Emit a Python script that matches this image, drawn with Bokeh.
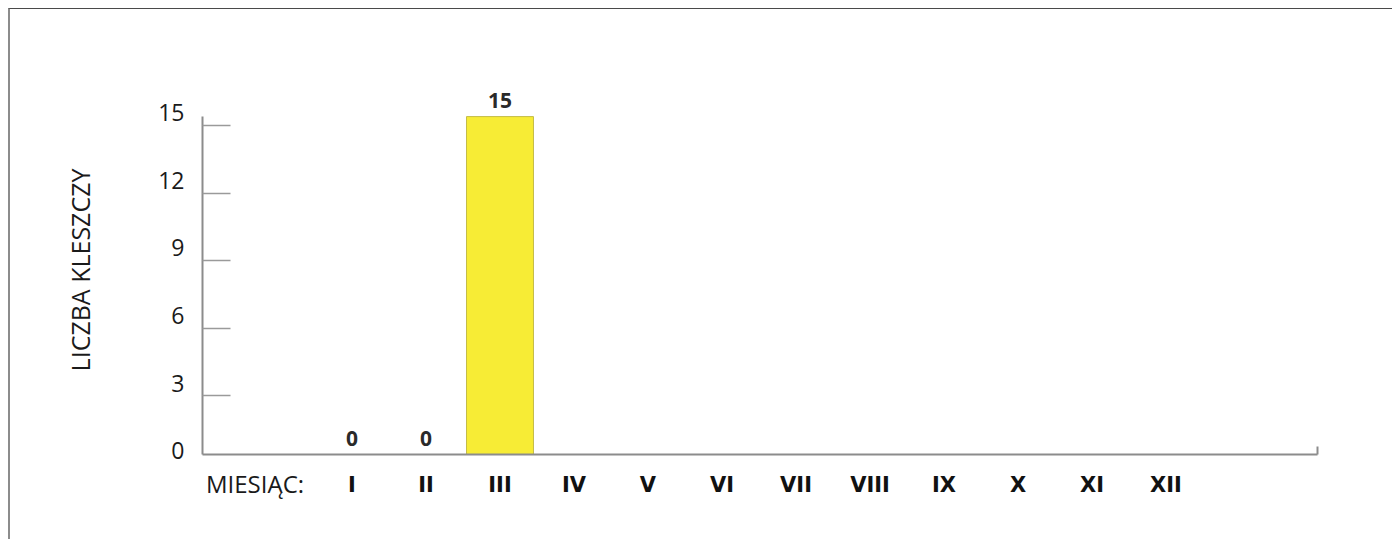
from bokeh.plotting import figure
from bokeh.models import (Range1d, LinearAxis, FixedTicker, ColumnDataSource, LabelSet)
from bokeh.core.properties import value
from bokeh.embed import file_html
from bokeh.resources import INLINE

# ---- data ----
months = ["I", "II", "III", "IV", "V", "VI", "VII", "VIII", "IX", "X", "XI", "XII"]
month_index = list(range(1, 13))
measured_index = [1, 2, 3]
tick_counts = [0, 0, 15]
y_ticks = [0, 3, 6, 9, 12, 15]
y_title = "LICZBA KLESZCZY"
x_title = "MIESIĄC:"

X_START, X_END = -1.020, 14.047
Y_END = 16.38
X_TITLE_POS = -0.31
TICK_SHIFT = 0.4     # tick marks drawn a little below their values (as in the original)
LAB_SHIFT = 0.17     # tick labels drawn a little above their values

p = figure(width=1384, height=531, output_backend="svg", toolbar_location=None,
           x_range=Range1d(X_START, X_END), y_range=Range1d(0, Y_END),
           x_axis_type=None, y_axis_type=None,
           min_border_left=192, min_border_right=77,
           min_border_top=76, min_border_bottom=86)
p.outline_line_color = None
p.background_fill_color = "white"
p.border_fill_color = "white"
p.styles = {"margin-top": "8px", "margin-left": "8px",
            "border-top": "1px solid #4a4a4a", "border-left": "2px solid #8c8c8c"}

p.extra_y_ranges = {"tk": Range1d(TICK_SHIFT, Y_END + TICK_SHIFT),
                    "lab": Range1d(-LAB_SHIFT, Y_END - LAB_SHIFT)}

# y axis line + tick marks
ytk = LinearAxis(y_range_name="tk", ticker=FixedTicker(ticks=y_ticks[1:]),
                 bounds=(TICK_SHIFT, y_ticks[-1] + TICK_SHIFT),
                 major_tick_in=28, major_tick_out=0, minor_tick_in=0, minor_tick_out=0,
                 major_label_text_font_size="1px", major_label_text_color=None,
                 major_label_standoff=0,
                 axis_line_color="#8c8c8c", axis_line_width=2,
                 major_tick_line_color="#9a9a9a", major_tick_line_width=1.5)
p.add_layout(ytk, "left")

# y tick labels + axis title
ylab = LinearAxis(y_range_name="lab", ticker=FixedTicker(ticks=y_ticks),
                  major_tick_in=0, major_tick_out=0, minor_tick_in=0, minor_tick_out=0,
                  axis_line_color=None, major_tick_line_color=None, minor_tick_line_color=None,
                  major_label_standoff=18,
                  major_label_text_font="Open Sans", major_label_text_font_size="23px",
                  major_label_text_color="#1a1a1a",
                  axis_label=y_title, axis_label_standoff=58,
                  axis_label_text_font="Open Sans", axis_label_text_font_size="25px",
                  axis_label_text_font_style="normal", axis_label_text_color="#1a1a1a")
p.add_layout(ylab, "left")

# x axis line, small end tick, and the "MIESIĄC:" caption
xtk = LinearAxis(ticker=FixedTicker(ticks=[X_TITLE_POS], minor_ticks=[X_END]),
                 major_label_overrides={X_TITLE_POS: x_title},
                 major_tick_in=0, major_tick_out=0, minor_tick_in=8, minor_tick_out=0,
                 major_label_standoff=12,
                 major_label_text_font="Open Sans", major_label_text_font_size="24px",
                 major_label_text_color="#1a1a1a",
                 axis_line_color="#8c8c8c", axis_line_width=2,
                 major_tick_line_color=None,
                 minor_tick_line_color="#8c8c8c", minor_tick_line_width=2)
p.add_layout(xtk, "below")

# month numerals
xlab = LinearAxis(ticker=FixedTicker(ticks=month_index),
                  major_label_overrides={i: m for i, m in zip(month_index, months)},
                  major_tick_in=0, major_tick_out=0, minor_tick_in=0, minor_tick_out=0,
                  axis_line_color=None, major_tick_line_color=None, minor_tick_line_color=None,
                  major_label_standoff=-30,
                  major_label_text_font="DejaVu Sans", major_label_text_font_style="bold",
                  major_label_text_font_size="21px", major_label_text_color="#111111")
p.add_layout(xlab, "below")

src = ColumnDataSource(dict(x=measured_index, top=tick_counts,
                            label=[str(v) for v in tick_counts]))
p.vbar(x="x", top="top", width=0.905, source=src,
       fill_color="#F7EC35", line_color="#c4bc48", line_width=1)

p.add_layout(LabelSet(x="x", y="top", text="label", source=src, y_offset=9,
                      text_align="center", text_baseline="bottom",
                      text_font=value("Open Sans"), text_font_style="bold",
                      text_font_size="21px", text_color="#2a2a2a"))

open("out.html", "w").write(file_html(p, INLINE))
